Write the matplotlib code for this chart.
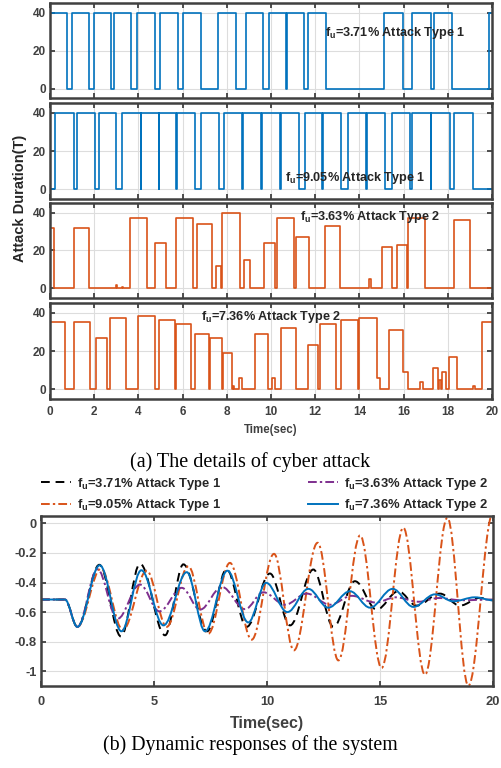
import matplotlib
matplotlib.use("Agg")
import matplotlib.pyplot as plt
from matplotlib.path import Path
from matplotlib.patches import PathPatch
from matplotlib.lines import Line2D
import numpy as np

plt.rcParams['font.family'] = 'Liberation Sans'
plt.rcParams['font.weight'] = 'bold'
plt.rcParams['mathtext.fontset'] = 'custom'
plt.rcParams['mathtext.rm'] = 'Liberation Sans:bold'
plt.rcParams['mathtext.it'] = 'Liberation Sans:bold'
plt.rcParams['mathtext.bf'] = 'Liberation Sans:bold'

BLUE = '#0072BD'
ORANGE = '#D95319'
PURPLE = '#7E2F8E'
DARK = '#404040'

# ---- attack profiles: switching instants (s) and duration held from that instant
t_a1 = [0, 0.78, 1.0, 1.78, 1.98, 2.77, 2.9, 3.68, 3.95, 4.75, 4.99, 5.79, 6.0, 6.82,
        7.62, 8.42, 8.85, 9.62, 9.91, 10.68, 10.74, 11.49, 11.69, 12.49, 15.13, 15.96,
        16.39, 17.24, 17.36, 18.17, 19.88, 20]
v_a1 = [40, 0, 40, 0, 40, 0, 40, 0, 40, 0, 40, 0, 40, 0,
        40, 0, 40, 0, 40, 0, 40, 0, 40, 0, 40, 0,
        40, 0, 40, 0, 40, 40]

t_a2 = [0, 0.24, 1.07, 1.235, 2.02, 2.2, 3.0, 3.27, 4.10, 4.14, 4.91, 4.94, 5.72, 5.75,
        6.54, 6.84, 7.65, 7.86, 8.68, 8.75, 9.56, 9.61, 10.39, 10.46, 11.25, 11.52,
        12.32, 12.37, 13.18, 13.48, 14.31, 14.34, 15.17, 15.48, 16.3, 16.36, 17.22,
        17.25, 18.08, 18.3, 19.13, 20]
v_a2 = [0, 40, 0, 40, 0, 40, 0, 40, 0, 40, 0, 40, 0, 40,
        0, 40, 0, 40, 0, 40, 0, 40, 0, 40, 0, 40,
        0, 40, 0, 40, 0, 40, 0, 40, 0, 40, 0,
        40, 0, 40, 0, 0]

t_a3 = [0, 0.2, 1.08, 1.75, 2.98, 3.03, 3.28, 3.32, 3.61, 4.38, 4.74, 5.24, 5.72, 6.48,
        6.66, 7.32, 7.5, 7.76, 7.8, 8.59, 8.78, 9.05, 9.67, 10.17, 10.27, 11.03, 11.15,
        11.72, 12.46, 13.13, 14.43, 14.54, 15.03, 15.48, 15.7, 16.15, 16.19, 16.96,
        18.29, 19.01, 20]
v_a3 = [32, 0, 32, 0, 2, 0, 1, 0, 37, 0, 24, 0, 37, 0,
        34, 0, 12, 0, 40, 0, 15, 0, 24, 0, 37, 0, 27,
        0, 33, 0, 5, 0, 22, 0, 23, 0, 37, 0,
        36, 0, 0]

t_a4 = [0, 0.69, 1.08, 1.81, 2.08, 2.59, 2.71, 3.46, 3.98, 4.75, 4.92, 5.65, 5.69, 6.37,
        6.57, 7.18, 7.23, 7.8, 7.83, 8.25, 8.3, 8.34, 8.56, 8.68, 9.26, 9.87, 10.05,
        10.17, 10.47, 11.12, 11.67, 12.13, 12.23, 12.92, 13.18, 13.93, 14.0, 14.79,
        14.91, 15.33, 15.97, 16.19, 16.76, 16.87, 17.32, 17.55, 17.58, 17.7, 17.74,
        17.92, 18.04, 18.4, 19.16, 19.24, 19.53, 20]
v_a4 = [35, 0, 35, 0, 27, 0, 37, 0, 38, 0, 36, 0, 34, 0,
        29, 0, 27, 0, 19, 0, 2, 0, 6, 0, 29, 0, 6,
        0, 32, 0, 23, 0, 34, 0, 36, 0, 37, 6,
        0, 31, 9, 0, 4, 0, 11, 0, 5, 0, 9,
        0, 17, 0, 2, 0, 35, 35]

attack_sets = [
    (t_a1, v_a1, BLUE, r'f$_\mathregular{u}$=3.71% Attack Type 1', (12.45, 29)),
    (t_a2, v_a2, BLUE, r'f$_\mathregular{u}$=9.05% Attack Type 1', (10.65, 6)),
    (t_a3, v_a3, ORANGE, r'f$_\mathregular{u}$=3.63% Attack Type 2', (11.3, 37.5)),
    (t_a4, v_a4, ORANGE, r'f$_\mathregular{u}$=7.36% Attack Type 2', (6.85, 37.5)),
]

# ---- dynamic responses: successive turning points (time, value)
t_k1 = [0, 1.06, 1.61, 2.58, 3.54, 4.38, 5.49, 6.30, 7.35, 8.21, 9.10, 10.13, 11.02,
        12.05, 12.94, 13.89, 14.85, 15.81, 16.62, 17.65, 18.54, 19.42, 20]
y_k1 = [-0.515, -0.515, -0.70, -0.28, -0.765, -0.273, -0.757, -0.277, -0.73, -0.31,
        -0.70, -0.339, -0.69, -0.312, -0.70, -0.391, -0.583, -0.459, -0.556, -0.475,
        -0.556, -0.504, -0.52]

t_k2 = [0, 1.06, 1.61, 2.65, 3.62, 4.68, 5.56, 6.52, 7.40, 8.36, 9.32, 10.31, 11.19,
        12.24, 13.16, 14.12, 15.07, 16.03, 16.99, 17.98, 18.91, 20.0]
y_k2 = [-0.515, -0.515, -0.70, -0.307, -0.72, -0.32, -0.70, -0.29, -0.746, -0.267,
        -0.787, -0.206, -0.859, -0.131, -0.927, -0.081, -0.978, -0.029, -1.024, 0.038,
        -1.098, 0.07]

t_k3 = [0, 1.06, 1.61, 2.5, 3.38, 4.38, 5.24, 6.23, 7.04, 8.0, 9.03, 9.84, 10.8,
        11.76, 12.79, 13.75, 14.8, 15.7, 16.7, 17.6, 18.6, 20]
y_k3 = [-0.515, -0.515, -0.70, -0.31, -0.646, -0.414, -0.595, -0.436, -0.583, -0.43,
        -0.58, -0.466, -0.55, -0.475, -0.55, -0.49, -0.535, -0.50, -0.53, -0.505,
        -0.52, -0.515]

t_k4 = [0, 1.06, 1.61, 2.6, 3.56, 4.44, 5.42, 6.45, 7.26, 8.25, 9.17, 9.96, 10.9,
        11.83, 12.71, 13.67, 14.56, 15.56, 16.48, 17.43, 18.24, 19.2, 20]
y_k4 = [-0.515, -0.515, -0.70, -0.283, -0.73, -0.317, -0.69, -0.33, -0.73, -0.32,
        -0.67, -0.402, -0.60, -0.443, -0.57, -0.459, -0.57, -0.443, -0.565, -0.48,
        -0.527, -0.50, -0.52]

responses = [
    (t_k1, y_k1, 'black', (0, (4.5, 3)), r'f$_\mathregular{u}$=3.71% Attack Type 1'),
    (t_k2, y_k2, ORANGE, (0, (4.5, 1.6, 1.2, 1.6)), r'f$_\mathregular{u}$=9.05% Attack Type 1'),
    (t_k3, y_k3, PURPLE, (0, (4.5, 1.6, 1.2, 1.6)), r'f$_\mathregular{u}$=3.63% Attack Type 2'),
    (t_k4, y_k4, BLUE, '-', r'f$_\mathregular{u}$=7.36% Attack Type 2'),
]


def style_axes(ax, size, pad):
    for s in ax.spines.values():
        s.set_color(DARK)
        s.set_linewidth(1.8)
    ax.tick_params(direction='in', top=True, right=True, length=3.5, width=1.3,
                   colors=DARK, labelsize=size, pad=3)
    ax.tick_params(axis='x', pad=pad)
    for lab in ax.get_xticklabels() + ax.get_yticklabels():
        lab.set_fontweight('bold')
    ax.grid(True, color='#dddddd', linewidth=0.8)
    ax.set_axisbelow(True)


def turning_path(ts, vs, k=0.36):
    # cubic Bezier segments with flat tangents at every turning point
    verts = [(ts[0], vs[0])]
    codes = [Path.MOVETO]
    for i in range(1, len(ts)):
        dt = ts[i] - ts[i - 1]
        verts += [(ts[i - 1] + k * dt, vs[i - 1]), (ts[i] - k * dt, vs[i]), (ts[i], vs[i])]
        codes += [Path.CURVE4] * 3
    return Path(verts, codes)


fig = plt.figure(figsize=(5.01, 7.68), dpi=100)
W, H = 501.0, 768.0

panel_px = [(3, 98), (103, 199), (203, 298), (303, 399)]
axes_top = []
for i, ((top, bot), (ts, vs, col, txt, pos)) in enumerate(zip(panel_px, attack_sets)):
    ax = fig.add_axes([50 / W, 1 - bot / H, 442 / W, (bot - top) / H])
    ax.plot(ts, vs, drawstyle='steps-post', color=col, lw=1.2)
    ax.set_xlim(0, 20)
    ax.set_ylim(-5, 45)
    ax.set_xticks(np.arange(0, 21, 2))
    ax.set_yticks([0, 20, 40])
    style_axes(ax, 8.5, 5)
    if i < 3:
        ax.set_xticklabels([])
    ax.text(pos[0], pos[1], txt, fontsize=9.1, fontweight='bold', color='#262626',
            va='center', ha='left')
    axes_top.append(ax)

axes_top[-1].set_xlabel('Time(sec)', fontsize=8.3, fontweight='bold', color=DARK, labelpad=4)
fig.text(20 / W, 1 - 198 / H, 'Attack Duration(T)', rotation=90, fontsize=10.5,
         fontweight='bold', va='center', ha='center', color='#262626')
fig.text(0.5, 1 - 462 / H, '(a) The details of cyber attack', fontsize=14.5,
         family='Liberation Serif', fontweight='normal', ha='center', va='center')

# ---- system response panel
ax2 = fig.add_axes([41 / W, 1 - 686 / H, 452 / W, 170 / H])
handles = []
for ts, ys, col, ls, lab in responses:
    ax2.add_patch(PathPatch(turning_path(ts, ys), fill=False, edgecolor=col,
                            linestyle=ls, linewidth=1.4))
    handles.append(Line2D([], [], color=col, linestyle=ls, linewidth=1.4, label=lab))
ax2.set_xlim(0, 20)
ax2.set_ylim(-1.1, 0.05)
ax2.set_xticks([0, 5, 10, 15, 20])
ax2.set_yticks([0, -0.2, -0.4, -0.6, -0.8, -1])
ax2.set_yticklabels(['0', '-0.2', '-0.4', '-0.6', '-0.8', '-1'])
style_axes(ax2, 9.3, 7)
ax2.set_xlabel('Time(sec)', fontsize=11.5, fontweight='bold', color=DARK, labelpad=6)
fig.text(-4 / W, 1 - 592 / H, 'f4+f6', rotation=90, fontsize=10, fontweight='bold',
         va='center', ha='center', color=DARK)

leg = fig.legend(handles=handles, ncol=2, loc='upper left',
                 bbox_to_anchor=(41 / W, 1 - 476 / H), bbox_transform=fig.transFigure,
                 frameon=False, fontsize=9.4, handlelength=2.3, handletextpad=0.45,
                 columnspacing=6.6, labelspacing=0.4, borderpad=0, borderaxespad=0)
for t in leg.get_texts():
    t.set_fontweight('bold')
    t.set_color('#262626')

fig.text(0.5, 1 - 745 / H, '(b) Dynamic responses of the system', fontsize=14.3,
         family='Liberation Serif', fontweight='normal', ha='center', va='center')

fig.savefig('out.png', dpi=100)
